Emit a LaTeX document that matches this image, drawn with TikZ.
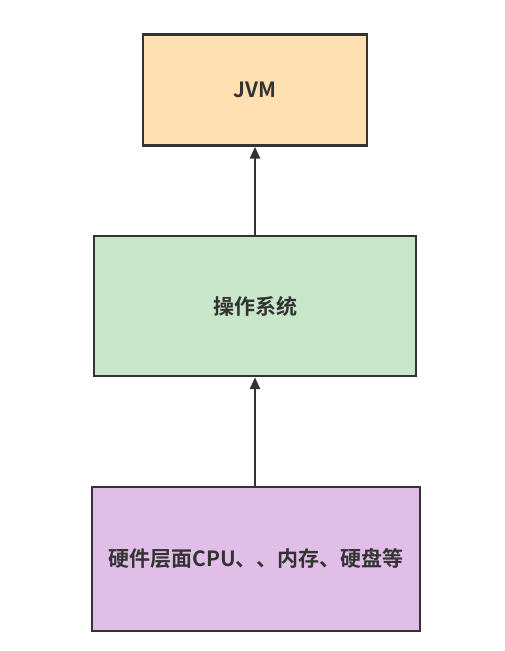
\documentclass[tikz,border=0pt]{standalone}
\usepackage{fontspec}
\newfontfamily\cjk{Noto Sans CJK SC Bold}
\usetikzlibrary{arrows.meta}
\definecolor{peach}{HTML}{FFE0B2}
\definecolor{mint}{HTML}{C8E6C9}
\definecolor{lilac}{HTML}{E1BEE7}
\definecolor{ink}{HTML}{333333}
\begin{document}
\begin{tikzpicture}[x=1pt,y=-1pt,
  box/.style={draw=ink, line width=2.4pt, text=ink, font=\cjk\fontsize{21}{24}\selectfont},
  conn/.style={draw=ink, line width=2.6pt, -{Triangle[length=12pt,width=10pt]}}]
\useasboundingbox (0,0) rectangle (505,651);
\fill[white] (0,0) rectangle (505,651);
\node[box, fill=peach, minimum width=224pt, minimum height=111pt] (jvm) at (255,90) {JVM};
\node[box, fill=mint, minimum width=322pt, minimum height=140pt] (os) at (255,306) {操作系统};
\node[box, fill=lilac, minimum width=328pt, minimum height=144pt] (hw) at (256,559) {硬件层面CPU、、内存、硬盘等};
\draw[conn] (hw.north -| os.south) -- (os.south);
\draw[conn] (os.north) -- (os.north |- jvm.south);
\end{tikzpicture}
\end{document}
